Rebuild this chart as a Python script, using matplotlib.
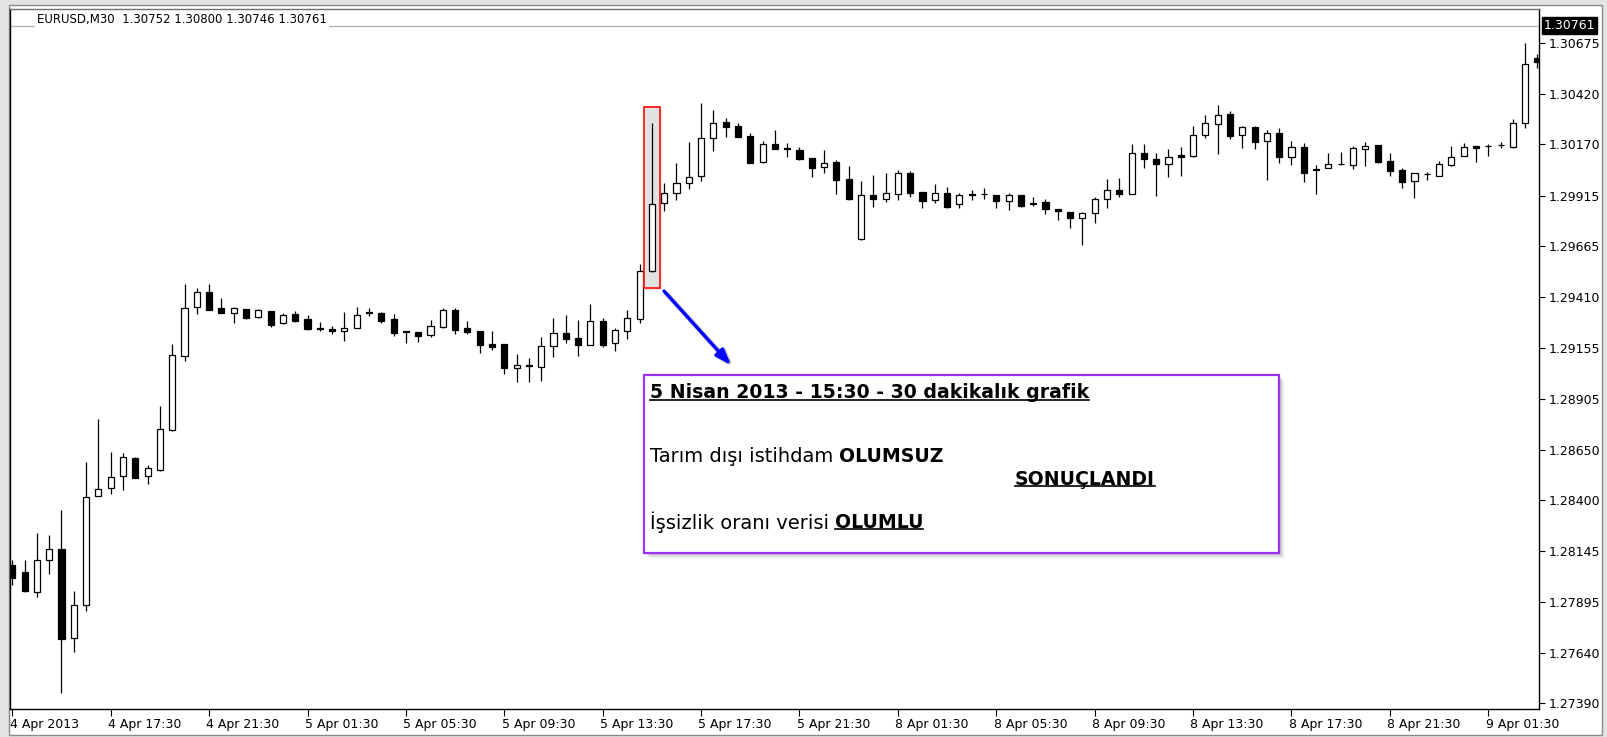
import matplotlib
matplotlib.use('Agg')
import matplotlib.pyplot as plt
from matplotlib.patches import Rectangle
from matplotlib.lines import Line2D
from matplotlib.transforms import ScaledTranslation, IdentityTransform
import numpy as np

W, H = 1608, 737

symbol = 'EURUSD,M30'
last_ohlc = [1.30752, 1.30800, 1.30746, 1.30761]
bid = 1.30761

opens = [1.28078, 1.28043, 1.27943, 1.28102, 1.28157, 1.27714, 1.27878, 1.28421, 1.28461, 1.28520,
         1.28610, 1.28520, 1.28550, 1.28749, 1.29117, 1.29361, 1.29436, 1.29356, 1.29331, 1.29351,
         1.29312, 1.29341, 1.29282, 1.29326, 1.29302, 1.29257, 1.29252, 1.29242, 1.29257, 1.29336,
         1.29331, 1.29302, 1.29242, 1.29237, 1.29222, 1.29262, 1.29346, 1.29257, 1.29242, 1.29177,
         1.29177, 1.29058, 1.29073, 1.29063, 1.29167, 1.29232, 1.29207, 1.29172, 1.29292, 1.29182,
         1.29242, 1.29302, 1.29541, 1.29879, 1.29929, 1.29978, 1.30013, 1.30202, 1.30282, 1.30262,
         1.30212, 1.30083, 1.30172, 1.30153, 1.30143, 1.30103, 1.30058, 1.30083, 1.29998, 1.29700,
         1.29919, 1.29899, 1.29924, 1.30028, 1.29934, 1.29894, 1.29929, 1.29874, 1.29924, 1.29924,
         1.29919, 1.29889, 1.29919, 1.29879, 1.29884, 1.29849, 1.29834, 1.29804, 1.29829, 1.29899,
         1.29943, 1.29924, 1.30128, 1.30098, 1.30073, 1.30118, 1.30113, 1.30217, 1.30272, 1.30322,
         1.30217, 1.30257, 1.30187, 1.30227, 1.30108, 1.30158, 1.30048, 1.30053, 1.30073, 1.30068,
         1.30148, 1.30167, 1.30088, 1.30043, 1.29988, 1.30023, 1.30013, 1.30068, 1.30113, 1.30163,
         1.30163, 1.30167, 1.30158, 1.30277, 1.30600]
highs = [1.28102, 1.28102, 1.28237, 1.28227, 1.28351, 1.27948, 1.28590, 1.28804, 1.28640, 1.28635,
         1.28615, 1.28575, 1.28869, 1.29177, 1.29476, 1.29456, 1.29476, 1.29406, 1.29361, 1.29351,
         1.29351, 1.29341, 1.29331, 1.29341, 1.29322, 1.29287, 1.29267, 1.29336, 1.29361, 1.29356,
         1.29336, 1.29326, 1.29242, 1.29237, 1.29297, 1.29356, 1.29356, 1.29292, 1.29242, 1.29242,
         1.29177, 1.29127, 1.29108, 1.29212, 1.29307, 1.29322, 1.29297, 1.29376, 1.29307, 1.29257,
         1.29346, 1.29575, 1.30277, 1.29978, 1.30078, 1.30182, 1.30376, 1.30342, 1.30302, 1.30277,
         1.30227, 1.30187, 1.30242, 1.30177, 1.30158, 1.30103, 1.30143, 1.30093, 1.30063, 1.29988,
         1.30018, 1.30028, 1.30043, 1.30038, 1.29934, 1.29973, 1.29958, 1.29929, 1.29943, 1.29953,
         1.29919, 1.29929, 1.29919, 1.29909, 1.29899, 1.29849, 1.29834, 1.29834, 1.29909, 1.29998,
         1.30003, 1.30172, 1.30172, 1.30128, 1.30148, 1.30158, 1.30262, 1.30317, 1.30367, 1.30337,
         1.30262, 1.30262, 1.30242, 1.30252, 1.30187, 1.30177, 1.30068, 1.30128, 1.30133, 1.30163,
         1.30182, 1.30167, 1.30128, 1.30053, 1.30028, 1.30033, 1.30088, 1.30163, 1.30177, 1.30163,
         1.30172, 1.30182, 1.30297, 1.30675, 1.30620]
lows = [1.27978, 1.27943, 1.27918, 1.28033, 1.27441, 1.27645, 1.27849, 1.28421, 1.28431, 1.28451,
        1.28510, 1.28481, 1.28545, 1.28744, 1.29093, 1.29326, 1.29346, 1.29331, 1.29282, 1.29302,
        1.29307, 1.29262, 1.29277, 1.29287, 1.29247, 1.29242, 1.29227, 1.29192, 1.29257, 1.29317,
        1.29282, 1.29217, 1.29182, 1.29187, 1.29212, 1.29257, 1.29227, 1.29227, 1.29132, 1.29147,
        1.29028, 1.28988, 1.28988, 1.28993, 1.29113, 1.29182, 1.29117, 1.29172, 1.29162, 1.29142,
        1.29202, 1.29282, 1.29536, 1.29839, 1.29894, 1.29948, 1.29988, 1.30138, 1.30207, 1.30207,
        1.30078, 1.30078, 1.30148, 1.30108, 1.30093, 1.30008, 1.30028, 1.29924, 1.29894, 1.29695,
        1.29859, 1.29884, 1.29894, 1.29909, 1.29854, 1.29879, 1.29854, 1.29854, 1.29894, 1.29899,
        1.29854, 1.29844, 1.29859, 1.29864, 1.29824, 1.29794, 1.29754, 1.29670, 1.29779, 1.29854,
        1.29909, 1.29924, 1.30053, 1.29914, 1.30008, 1.30013, 1.30108, 1.30202, 1.30123, 1.30197,
        1.30153, 1.30148, 1.29993, 1.30078, 1.30068, 1.29983, 1.29924, 1.30053, 1.30068, 1.30048,
        1.30063, 1.30078, 1.30013, 1.29953, 1.29904, 1.29993, 1.30013, 1.30063, 1.30113, 1.30083,
        1.30113, 1.30153, 1.30153, 1.30252, 1.30551]
closes = [1.28013, 1.27948, 1.28102, 1.28157, 1.27709, 1.27878, 1.28416, 1.28456, 1.28515, 1.28615,
          1.28510, 1.28560, 1.28754, 1.29122, 1.29356, 1.29436, 1.29346, 1.29331, 1.29356, 1.29307,
          1.29346, 1.29272, 1.29322, 1.29292, 1.29252, 1.29252, 1.29242, 1.29257, 1.29322, 1.29331,
          1.29292, 1.29232, 1.29237, 1.29217, 1.29267, 1.29346, 1.29247, 1.29237, 1.29172, 1.29162,
          1.29058, 1.29073, 1.29068, 1.29167, 1.29232, 1.29202, 1.29172, 1.29292, 1.29172, 1.29247,
          1.29307, 1.29541, 1.29874, 1.29929, 1.29978, 1.30008, 1.30202, 1.30277, 1.30257, 1.30207,
          1.30078, 1.30172, 1.30148, 1.30148, 1.30098, 1.30053, 1.30078, 1.29993, 1.29899, 1.29919,
          1.29899, 1.29929, 1.30028, 1.29929, 1.29889, 1.29929, 1.29859, 1.29919, 1.29919, 1.29926,
          1.29889, 1.29919, 1.29864, 1.29874, 1.29849, 1.29839, 1.29804, 1.29829, 1.29899, 1.29943,
          1.29924, 1.30128, 1.30098, 1.30073, 1.30108, 1.30108, 1.30217, 1.30277, 1.30317, 1.30212,
          1.30257, 1.30182, 1.30227, 1.30108, 1.30158, 1.30028, 1.30043, 1.30073, 1.30074, 1.30153,
          1.30163, 1.30083, 1.30038, 1.29983, 1.30028, 1.30024, 1.30073, 1.30108, 1.30158, 1.30153,
          1.30164, 1.30168, 1.30277, 1.30571, 1.30580]

time_labels = ['4 Apr 2013', '4 Apr 17:30', '4 Apr 21:30', '5 Apr 01:30', '5 Apr 05:30',
               '5 Apr 09:30', '5 Apr 13:30', '5 Apr 17:30', '5 Apr 21:30', '8 Apr 01:30',
               '8 Apr 05:30', '8 Apr 09:30', '8 Apr 13:30', '8 Apr 17:30', '8 Apr 21:30',
               '9 Apr 01:30']
label_step = 8
price_ticks = [1.30675, 1.30420, 1.30170, 1.29915, 1.29665, 1.29410, 1.29155,
               1.28905, 1.28650, 1.28400, 1.28145, 1.27895, 1.27640, 1.27390]

event_bar = 52
note_title = '5 Nisan 2013 - 15:30 - 30 dakikalık grafik'
note_line1 = ('Tarım dışı istihdam', 'OLUMSUZ')
note_result = 'SONUÇLANDI'
note_line2 = ('İşsizlik oranı verisi', 'OLUMLU')

plt.rcParams['font.family'] = ['DejaVu Sans']


def fx(px):
    return px / W


def fy(py):
    return 1 - py / H


fig = plt.figure(figsize=(W / 100, H / 100), dpi=100, facecolor='#e4e4e4')

# chart window
fig.patches.append(Rectangle((fx(9), fy(735)), fx(1602) - fx(9), fy(5) - fy(735),
                             transform=fig.transFigure, facecolor='white',
                             edgecolor='#8a8a8a', lw=1, zorder=-1))

left, right, top, bottom = 10.5, 1539, 8.5, 708.5
ax = fig.add_axes([fx(left), fy(bottom), fx(right) - fx(left), fy(top) - fy(bottom)])
ax.set_zorder(1)
ax.set_facecolor('white')

bar_px = 12.3
x0_px = 12.3
ax.set_xlim((left - x0_px) / bar_px, (right - x0_px) / bar_px)
p_per_px = 4.976e-5
ax.set_ylim(1.30675 - (bottom - 43) * p_per_px, 1.30675 + (43 - top) * p_per_px)

o = np.array(opens)
h = np.array(highs)
l = np.array(lows)
c = np.array(closes)
x = np.arange(len(o))
up = c >= o

ax.vlines(x, l, h, color='black', lw=0.9, zorder=3)
ax.bar(x, np.abs(c - o), bottom=np.minimum(o, c), width=0.5,
       color=np.where(up, 'white', 'black'), edgecolor='black', lw=0.9, zorder=4)

# bid line
ax.axhline(bid, color='#b4b4b4', lw=1, zorder=1)

# axes style
for s in ax.spines.values():
    s.set_color('black')
    s.set_linewidth(1)
ax.spines['top'].set_color('#707070')
ax.yaxis.tick_right()
ax.set_yticks(price_ticks)
ax.set_yticklabels(['%.5f' % v for v in price_ticks])
ax.tick_params(axis='y', direction='out', length=4, width=0.8, pad=3, labelsize=9,
               colors='black')
ticks_x = np.arange(len(time_labels)) * label_step
ax.set_xticks(ticks_x)
ax.set_xticklabels(time_labels)
ax.tick_params(axis='x', direction='out', length=5, width=0.8, pad=2, labelsize=9,
               colors='black')
shift = ScaledTranslation(-2 / 72, 0, fig.dpi_scale_trans)
for lab in ax.get_xticklabels():
    lab.set_horizontalalignment('left')
    lab.set_transform(lab.get_transform() + shift)

# bid label on the price scale
ax.annotate('%.5f' % bid, xy=(1, bid), xycoords=('axes fraction', 'data'),
            xytext=(3.5, 0), textcoords='offset points', ha='left', va='center',
            fontsize=9, color='white', zorder=6,
            bbox=dict(boxstyle='square,pad=0.15', fc='black', ec='black'))

# header
fig.text(fx(37), fy(20), '%s  %s' % (symbol, ' '.join('%.5f' % v for v in last_ohlc)),
         fontsize=8.5, color='black', ha='left', va='center', zorder=5,
         bbox=dict(boxstyle='square,pad=0.15', fc='white', ec='none'))

# red box around the event bar, with its shadow
bx0, bx1 = event_bar - 0.65, event_bar + 0.65
by0, by1 = lows[event_bar] - 0.0008, highs[event_bar] + 0.0008
for k, a in zip([4, 3, 2, 1], [0.05, 0.07, 0.09, 0.11]):
    ax.add_patch(Rectangle((bx0 + k * 0.06, by0 - k * 0.00004), bx1 - bx0, by1 - by0,
                           facecolor='#808080', edgecolor='none', alpha=a, zorder=1))
ax.add_patch(Rectangle((bx0, by0), bx1 - bx0, by1 - by0, facecolor='#e2e2e2',
                       edgecolor='none', zorder=2))
ax.add_patch(Rectangle((bx0, by0), bx1 - bx0, by1 - by0, facecolor='none',
                       edgecolor='#ff1a1a', lw=1.3, zorder=5))

# arrow to the note, with a soft shadow
for dx, dy, col, a, lw in [(3, 3, '#909090', 0.25, 4.0), (2, 2, '#909090', 0.3, 3.0),
                           (0, 0, '#0000ff', 1.0, 2.4)]:
    ax.annotate('', xy=(fx(731 + dx), fy(365 + dy)), xycoords='figure fraction',
                xytext=(fx(664 + dx), fy(291 + dy)), textcoords='figure fraction',
                arrowprops=dict(arrowstyle='-|>,head_length=0.9,head_width=0.32',
                                color=col, alpha=a, lw=lw, shrinkA=0, shrinkB=0),
                zorder=6)

# note box
nx0, ny0, nx1, ny1 = 644, 375, 1279, 553
for k, a in zip([6, 5, 4, 3, 2], [0.04, 0.06, 0.08, 0.1, 0.12]):
    fig.patches.append(Rectangle((fx(nx0 + k), fy(ny1 + k)), fx(nx1) - fx(nx0),
                                 fy(ny0) - fy(ny1), transform=fig.transFigure,
                                 facecolor='#606060', edgecolor='none', alpha=a, zorder=7))
fig.patches.append(Rectangle((fx(nx0), fy(ny1)), fx(nx1) - fx(nx0), fy(ny0) - fy(ny1),
                             transform=fig.transFigure, facecolor='white',
                             edgecolor='#9b30ff', lw=1.6, zorder=8))

renderer = fig.canvas.get_renderer()


def put(px, py, s, bold=False, underline=False):
    t = fig.text(fx(px), fy(py), s, fontsize=13.55 if bold else 14, ha='left', va='center',
                 fontweight='bold' if bold else 'normal', color='black', zorder=9)
    bb = t.get_window_extent(renderer)
    if underline:
        fig.lines.append(Line2D([bb.x0, bb.x1], [bb.y0 + 2.5, bb.y0 + 2.5],
                                transform=IdentityTransform(), color='black', lw=1.2,
                                zorder=9))
    return bb


put(650, 393, note_title, bold=True, underline=True)
bb = put(650, 457, note_line1[0])
put(bb.x1 + 6, 457, note_line1[1], bold=True)
put(1015, 479, note_result, bold=True, underline=True)
bb = put(650, 522, note_line2[0])
put(bb.x1 + 6, 522, note_line2[1], bold=True, underline=True)

fig.savefig('out.png', dpi=100, facecolor=fig.get_facecolor())
